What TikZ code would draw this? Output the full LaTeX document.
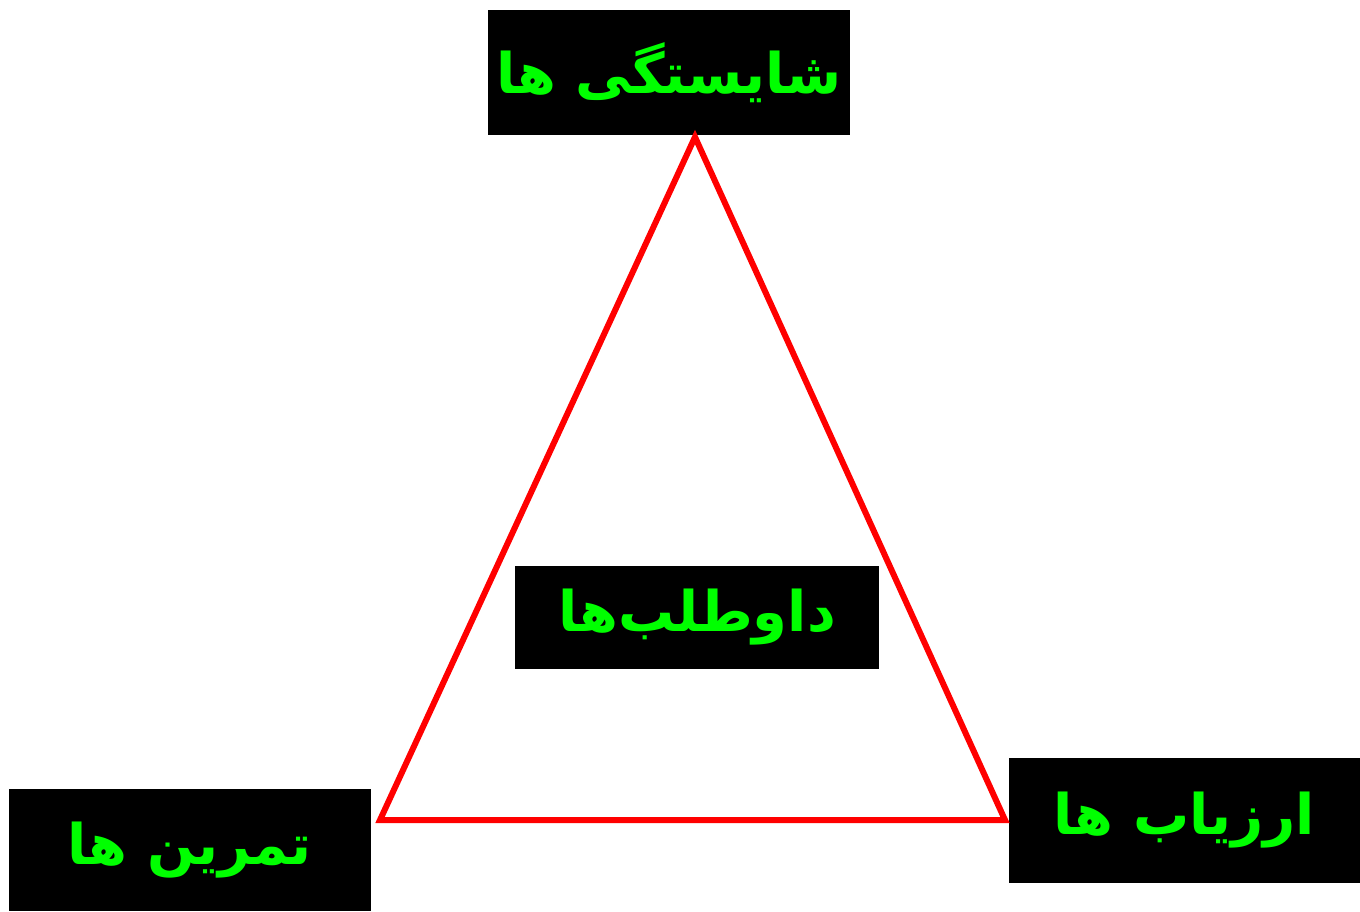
\documentclass[tikz,border=0pt]{standalone}
\usepackage{fontspec}
\newfontfamily\arabicfont[Script=Arabic]{DejaVu Sans}
\TeXXeTstate=1
\usepackage{tikz}
\definecolor{Edge}{HTML}{FF0000}
\definecolor{Label}{HTML}{00FF00}

\begin{document}
\begin{tikzpicture}[
 x=0.5pt,y=-0.5pt,
 b/.style={fill=black,text=Label,inner sep=0pt,font=\arabicfont\bfseries\fontsize{28}{32}\selectfont},
 t/.style={draw=Edge,line width=3pt,line join=miter}
]
\useasboundingbox (0,0) rectangle (1360,911);
\node[b,minimum width=181pt,minimum height=62.5pt] (skills) at (669,72.5) {\beginR شایستگی ها\endR};
\node[b,minimum width=182pt,minimum height=51.5pt] (cands) at (697,617.5) {\beginR داوطلب‌ها\endR};
\node[b,minimum width=181pt,minimum height=61pt] (drills) at (190,850) {\beginR تمرین ها\endR};
\node[b,minimum width=175.5pt,minimum height=62.5pt] (judges) at (1184.5,820.5) {\beginR ارزیاب ها\endR};
\coordinate (top) at (695,137);
\coordinate (left) at (380,820);
\coordinate (right) at (1005,820);
\draw[t] (top)--(left)--(right)--cycle;
\end{tikzpicture}
\end{document}
